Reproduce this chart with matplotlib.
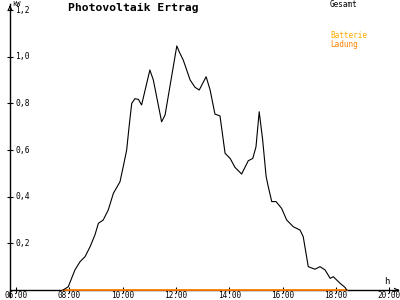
import matplotlib
matplotlib.use("Agg")
import matplotlib.pyplot as plt

# Data (hours of day, kW)
hours = [7.77, 7.96, 8.21, 8.40, 8.59, 8.78, 8.96, 9.09, 9.27, 9.46, 9.65, 9.90,
         10.02, 10.15, 10.25, 10.34, 10.46, 10.59, 10.71, 11.02, 11.15, 11.46, 11.59,
         11.77, 12.03, 12.12, 12.27, 12.53, 12.71, 12.87, 13.13, 13.28, 13.46, 13.65,
         13.84, 14.03, 14.21, 14.46, 14.71, 14.88, 15.00, 15.12, 15.25, 15.38, 15.46,
         15.59, 15.75, 15.96, 16.15, 16.40, 16.65, 16.77, 16.96, 17.21, 17.40, 17.59,
         17.78, 17.90, 18.15, 18.34, 18.40]
gesamt = [0.0, 0.014, 0.086, 0.121, 0.143, 0.186, 0.236, 0.286, 0.300, 0.343, 0.414, 0.464,
          0.528, 0.600, 0.710, 0.800, 0.820, 0.817, 0.793, 0.943, 0.900, 0.721, 0.750,
          0.871, 1.046, 1.021, 0.986, 0.900, 0.869, 0.857, 0.914, 0.857, 0.754, 0.746,
          0.586, 0.564, 0.526, 0.497, 0.554, 0.564, 0.614, 0.764, 0.643, 0.486, 0.443,
          0.379, 0.379, 0.350, 0.300, 0.271, 0.257, 0.229, 0.100, 0.089, 0.100, 0.086,
          0.050, 0.057, 0.029, 0.011, 0.0]
batt_hours = [7.77, 18.40]
batt_ladung = [0.0, 0.0]

x_ticks = [6, 8, 10, 12, 14, 16, 18, 20]
x_labels = ["06:00", "08:00", "10:00", "12:00", "14:00", "16:00", "18:00", "20:00"]
y_ticks = [0.2, 0.4, 0.6, 0.8, 1.0, 1.2]
y_labels = ["0,2", "0,4", "0,6", "0,8", "1,0", "1,2"]

mono = "DejaVu Sans Mono"
fig = plt.figure(figsize=(4, 3), dpi=100)
fig.patch.set_facecolor("white")
ax = fig.add_axes([0, 0, 1, 1])
x0, x1 = 5.4, 20.4
y0, y1 = -10 / 233.33, 290 / 233.33
ax.set_xlim(x0, x1)
ax.set_ylim(y0, y1)
ax.set_facecolor("white")

axis_x = 5.775
for s in ("top", "right"):
    ax.spines[s].set_visible(False)
ax.spines["left"].set_position(("data", axis_x))
ax.spines["bottom"].set_position(("data", 0))
ax.spines["left"].set_bounds(-0.03, 1.225)
ax.spines["bottom"].set_bounds(axis_x, 20.33)
for s in ("left", "bottom"):
    ax.spines[s].set_linewidth(1.0)
    ax.spines[s].set_color("black")

# arrows
ax.annotate("", xy=(axis_x, 1.232), xytext=(axis_x, 1.20),
            arrowprops=dict(arrowstyle="->", lw=0.8, color="black", mutation_scale=6))
ax.annotate("", xy=(20.36, 0), xytext=(20.2, 0),
            arrowprops=dict(arrowstyle="->", lw=0.8, color="black", mutation_scale=6))

ax.set_xticks(x_ticks)
ax.set_xticklabels(x_labels, fontfamily=mono, fontsize=5.6)
ax.tick_params(axis="x", direction="inout", length=5, width=0.8, pad=-2)
ax.set_yticks(y_ticks)
ax.set_yticklabels([])
ax.tick_params(axis="y", direction="inout", length=5, width=0.8)
for v, lab in zip(y_ticks, y_labels):
    ax.text(axis_x + 0.19, v, lab, fontfamily=mono, fontsize=5.8,
            ha="left", va="center")

ax.plot(batt_hours, batt_ladung, color="#ff8000", lw=1.3, zorder=3)
ax.plot(hours, gesamt, color="black", lw=0.8, zorder=4)

fig.text(12 / 400, 1 - 3.5 / 300, "kW", fontfamily=mono, fontsize=5.0, ha="left", va="center")
fig.text(387 / 400, 1 - 282 / 300, "h", fontfamily=mono, fontsize=6.5, ha="center", va="center")
fig.text(68 / 400, 1 - 8 / 300, "Photovoltaik Ertrag", fontfamily=mono, fontsize=8.2,
         fontweight="bold", ha="left", va="center")
fig.text(330 / 400, 1 - 4.5 / 300, "Gesamt", fontfamily=mono, fontsize=5.5, ha="left", va="center")
fig.text(330 / 400, 1 - 36 / 300, "Batterie", fontfamily=mono, fontsize=5.5,
         color="#ffaa00", ha="left", va="center")
fig.text(330 / 400, 1 - 44 / 300, "Ladung", fontfamily=mono, fontsize=5.5,
         color="#ff8000", ha="left", va="center")

fig.savefig("out.png", dpi=100)
